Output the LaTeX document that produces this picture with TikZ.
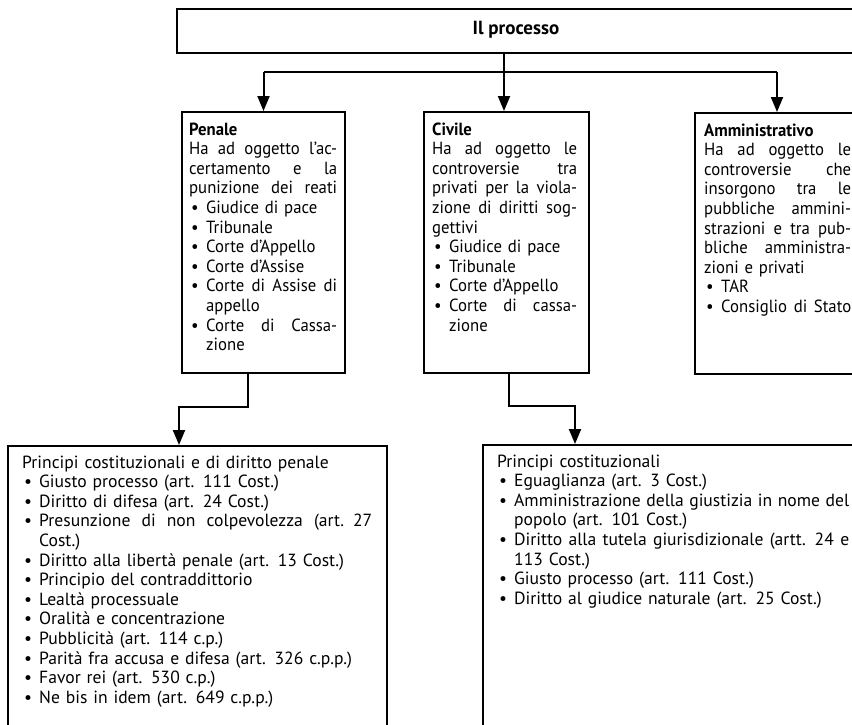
\documentclass[tikz,border=0pt]{standalone}
\usepackage{fontspec}
\setmainfont{PT Sans}
\newfontfamily\narrowf{PT Sans}[FakeStretch=0.95]
\usetikzlibrary{arrows.meta,calc}
\newlength{\bind}\setlength{\bind}{17pt}
\newcommand{\Bul}{\makebox[\bind][l]{\hspace{2pt}\textbullet}}
\newcommand{\JLine}[1]{\makebox[\hsize][s]{\spaceskip=.25em plus 3em minus .15em\relax #1}}
\newcommand{\BLine}[1]{\Bul\mbox{#1}}
\newcommand{\BJLine}[1]{\Bul\makebox[\dimexpr\hsize-\bind\relax][s]{\spaceskip=.25em plus 3em minus .15em\relax #1}}
\newcommand{\CLine}[1]{\hspace*{\bind}\mbox{#1}}
\tikzset{
  box/.style={draw, line width=2pt, inner sep=0pt, anchor=north west},
  txt/.style={anchor=base west, inner sep=0pt, align=left, font=\fontsize{17.6}{19.6}\selectfont},
  ntxt/.style={txt, font=\fontsize{17.6}{19.6}\selectfont\narrowf},
  conn/.style={line width=2pt},
  arr/.style={line width=2pt, -{Triangle[length=15pt,width=12pt]}},
}
\begin{document}
\begin{tikzpicture}[x=1pt,y=-1pt]
\useasboundingbox (0,0) rectangle (852,724);
\clip (0,0) rectangle (852,724);
% boxes
\node[box, minimum width=684pt, minimum height=44pt] (top) at (176,8) {};
\node[box, minimum width=163pt, minimum height=261pt] (pen) at (181,111) {};
\node[box, minimum width=165pt, minimum height=261pt] (civ) at (423,111) {};
\node[box, minimum width=164pt, minimum height=261pt] (adm) at (694,112) {};
\node[box, minimum width=379pt, minimum height=300pt] (bl) at (7,445) {};
\node[box, minimum width=376pt, minimum height=300pt] (br) at (482,444) {};
% texts
\node[font=\fontsize{19}{20}\selectfont\bfseries, inner sep=0pt] (topt) at (516,30) {Il processo};
\node[ntxt, text width=148pt] (pent) at (189,135) {\textbf{Penale}\\
\JLine{Ha ad oggetto l’ac-}\\
\JLine{certamento e la}\\
\JLine{punizione dei reati}\\
\BLine{Giudice di pace}\\
\BLine{Tribunale}\\
\BLine{Corte d’Appello}\\
\BLine{Corte d’Assise}\\
\BJLine{Corte di Assise di}\\
\CLine{appello}\\
\BJLine{Corte di Cassa-}\\
\CLine{zione}};
\node[ntxt, text width=145pt] (civt) at (432,135) {\textbf{Civile}\\
\JLine{Ha ad oggetto le}\\
\JLine{controversie tra}\\
\JLine{privati per la viola-}\\
\JLine{zione di diritti sog-}\\
gettivi\\
\BLine{Giudice di pace}\\
\BLine{Tribunale}\\
\BLine{Corte d’Appello}\\
\BJLine{Corte di cassa-}\\
\CLine{zione}};
\node[ntxt, text width=147pt] (admt) at (704,136) {\textbf{Amministrativo}\\
\JLine{Ha ad oggetto le}\\
\JLine{controversie che}\\
\JLine{insorgono tra le}\\
\JLine{pubbliche ammini-}\\
\JLine{strazioni e tra pub-}\\
\JLine{bliche amministra-}\\
zioni e privati\\
\BLine{TAR}\\
\BJLine{Consiglio di Stato}};
\node[txt, text width=350pt] (blt) at (22,468) {Principi costituzionali e di diritto penale\\
\BLine{Giusto processo (art. 111 Cost.)}\\
\BLine{Diritto di difesa (art. 24 Cost.)}\\
\BJLine{Presunzione di non colpevolezza (art. 27}\\
\CLine{Cost.)}\\
\BLine{Diritto alla libertà penale (art. 13 Cost.)}\\
\BLine{Principio del contraddittorio}\\
\BLine{Lealtà processuale}\\
\BLine{Oralità e concentrazione}\\
\BLine{Pubblicità (art. 114 c.p.)}\\
\BLine{Parità fra accusa e difesa (art. 326 c.p.p.)}\\
\BLine{Favor rei (art. 530 c.p.)}\\
\BLine{Ne bis in idem (art. 649 c.p.p.)}};
\node[txt, text width=352pt] (brt) at (497,467) {Principi costituzionali\\
\BLine{Eguaglianza (art. 3 Cost.)}\\
\BJLine{Amministrazione della giustizia in nome del}\\
\CLine{popolo (art. 101 Cost.)}\\
\BJLine{Diritto alla tutela giurisdizionale (artt. 24 e}\\
\CLine{113 Cost.)}\\
\BLine{Giusto processo (art. 111 Cost.)}\\
\BLine{Diritto al giudice naturale (art. 25 Cost.)}};
% connectors
\coordinate (bar) at (504,72);
\draw[arr] (top.south -| bar) -- (civ.north -| bar);
\draw[conn] (pen.north |- bar) -- (adm.north |- bar);
\draw[arr] (pen.north |- bar) -- (pen.north);
\draw[arr] (adm.north |- bar) -- (adm.north);
\draw[arr] ([xshift=-16pt]pen.south) -- ++(0,33) -| ([xshift=-18.5pt]bl.north);
\draw[arr] ([xshift=2.5pt]civ.south) -- ++(0,32) -| ([xshift=-96pt]br.north);
\end{tikzpicture}
\end{document}
